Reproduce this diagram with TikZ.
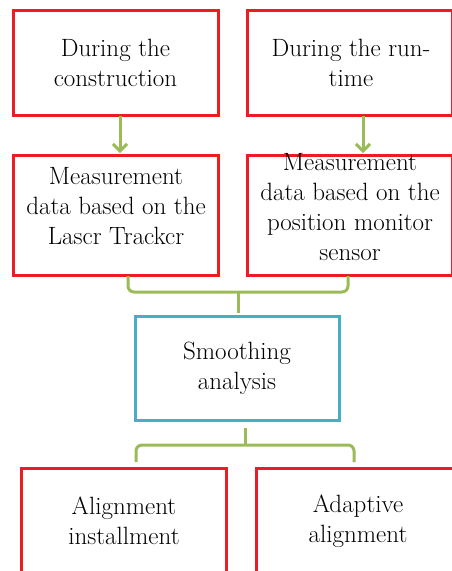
\documentclass[tikz,border=0pt]{standalone}
\usepackage{fontspec}
\usetikzlibrary{arrows.meta}
\definecolor{boxred}{RGB}{237,28,36}
\definecolor{boxcyan}{RGB}{75,172,198}
\definecolor{linkgreen}{RGB}{155,187,89}
\begin{document}
\begin{tikzpicture}[x=1pt,y=-1pt,
  redbox/.style={draw=boxred,line width=3pt,minimum width=205pt,inner sep=0pt},
  cyanbox/.style={draw=boxcyan,line width=3pt,minimum width=204pt,minimum height=104pt,inner sep=0pt},
  txt/.style={align=center,inner sep=0pt,font=\rmfamily\fontsize{25}{30}\selectfont},
  link/.style={draw=linkgreen,line width=3pt,rounded corners=6pt},
  arr/.style={draw=linkgreen,line width=3pt,-{Straight Barb[length=7pt,width=14pt,line width=3pt]}}]
\useasboundingbox (0,0) rectangle (452,571);
\clip (0,0) rectangle (452,571);
% boxes
\node[redbox,minimum height=105pt] (b1) at (115.5,62.5) {};
\node[redbox,minimum height=105pt] (b2) at (350,62.5) {};
\node[redbox,minimum height=120pt] (b3) at (115.5,215) {};
\node[redbox,minimum height=120pt] (b4) at (350,215) {};
\node[cyanbox] (b5) at (237,368) {};
\node[redbox,minimum height=106pt] (b6) at (124,521) {};
\node[redbox,minimum height=106pt] (b7) at (359,521) {};
% texts
\node[txt] (t1) at (115.5,63) {During the\\construction};
\node[txt] (t2) at (351,63) {During the run-\\time};
\node[txt] (t3) at (116,206) {Measurement\\data based on the\\Lascr Trackcr};
\node[txt] (t4) at (350,207) {Measurement\\data based on the\\position monitor\\sensor};
\node[txt] (t5) at (237,368) {Smoothing\\analysis};
\node[txt] (t6) at (124,521) {Alignment\\installment};
\node[txt] (t7) at (358,521) {Adaptive\\alignment};
% arrows
\coordinate (a1s) at (120,116);
\coordinate (a1e) at (120,153);
\coordinate (a2s) at (363,116);
\coordinate (a2e) at (363,153);
\draw[arr] (a1s) -- (a1e);
\draw[arr] (a2s) -- (a2e);
% brace 1
\coordinate (l1) at (128,276);
\coordinate (r1) at (348,276);
\coordinate (m1) at (238,292);
\coordinate (s1) at (238,313);
\draw[link] (l1) |- (m1) -| (r1);
\draw[draw=linkgreen,line width=3pt] (m1) -- (s1);
% brace 2
\coordinate (s2) at (245,428);
\coordinate (m2) at (245,445);
\coordinate (l2) at (136,462);
\coordinate (r2) at (354,462);
\draw[link] (l2) |- (m2) -| (r2);
\draw[draw=linkgreen,line width=3pt] (s2) -- (m2);
\end{tikzpicture}
\end{document}
